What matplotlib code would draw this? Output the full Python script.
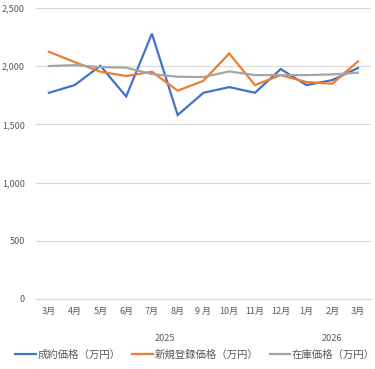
import numpy as np
import matplotlib
matplotlib.use("Agg")
import matplotlib.pyplot as plt
import matplotlib.transforms as mtransforms

plt.rcParams["font.family"] = ["Noto Sans CJK JP", "DejaVu Sans"]

months = ["3月", "4月", "5月", "6月", "7月", "8月", "9 月", "10月", "11月", "12月", "1月", "2月", "3月"]
years = [("2025", 0, 9), ("2026", 10, 12)]

contract_price = [1772, 1838, 2004, 1740, 2280, 1581, 1772, 1821, 1772, 1976, 1838, 1881, 1985]
new_listing_price = [2125, 2036, 1953, 1916, 1953, 1790, 1875, 2110, 1838, 1924, 1864, 1850, 2042]
stock_price = [2002, 2010, 1993, 1988, 1933, 1910, 1907, 1956, 1924, 1924, 1924, 1930, 1945]

series = [
    ("成約価格（万円）", contract_price, "#4472C4"),
    ("新規登録価格（万円）", new_listing_price, "#ED7D31"),
    ("在庫価格（万円）", stock_price, "#A5A5A5"),
]

TEXT_COLOR = "#595959"

fig = plt.figure(figsize=(3.75, 3.69), dpi=100)
ax = fig.add_axes([0.096, 0.19, 0.893, 0.788])

x = np.arange(len(months))
for label, values, color in series:
    ax.plot(x, values, color=color, linewidth=1.6, label=label, solid_joinstyle="miter")

ax.set_ylim(0, 2500)
ax.set_yticks(np.arange(0, 2501, 500))
ax.set_yticklabels([f"{v:,}" for v in range(0, 2501, 500)])
ax.set_xlim(-0.5, len(months) - 0.5)
ax.set_xticks(x)
ax.set_xticklabels(months)

ax.grid(axis="y", color="#D9D9D9", linewidth=0.8)
ax.set_axisbelow(True)
for side in ["top", "right", "left"]:
    ax.spines[side].set_visible(False)
ax.spines["bottom"].set_color("#D9D9D9")
ax.tick_params(axis="both", length=0, labelsize=6.5, colors=TEXT_COLOR, pad=6)
ax.tick_params(axis="y", pad=8)

trans = mtransforms.blended_transform_factory(ax.transData, ax.transAxes)
for year, start, end in years:
    ax.text((start + end) / 2, -0.135, year, transform=trans, ha="center", va="center",
            fontsize=6.5, color=TEXT_COLOR)

fig.legend(loc="center", bbox_to_anchor=(0.52, 0.038), ncol=3, frameon=False,
           fontsize=7.5, labelcolor=TEXT_COLOR, handlelength=2.0, handletextpad=0.15,
           columnspacing=1.1)

fig.savefig("out.png", dpi=100)
